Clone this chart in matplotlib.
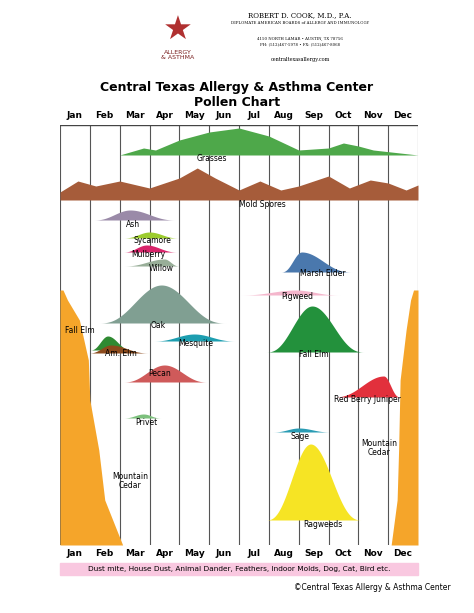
import numpy as np
import matplotlib.pyplot as plt

MONTHS = ["Jan", "Feb", "Mar", "Apr", "May", "Jun", "Jul", "Aug", "Sep", "Oct", "Nov", "Dec"]

# pollen seasons: name, start, peak, end (month units), baseline row, height, colour
SEASONS = [
    ("Ash", 1.1, 2.35, 3.9, 220, 10, "#9a8aa8"),
    ("Sycamore", 2.1, 3.0, 4.0, 238, 6, "#9ccc2e"),
    ("Mulberry", 2.1, 2.9, 3.95, 252, 7, "#d8246a"),
    ("Willow", 2.1, 3.5, 4.0, 266, 7, "#98ae98"),
    ("Oak", 1.3, 3.4, 5.55, 323, 38, "#809f92"),
    ("Fall Elm", 1.0, 1.6, 2.4, 350, 14, "#2f8a32"),
    ("Am. Elm", 0.95, 1.7, 3.0, 353, 8, "#8b4a1c"),
    ("Mesquite", 3.1, 4.5, 5.9, 341, 7, "#1d9eb0"),
    ("Pecan", 2.1, 3.5, 4.95, 382, 17, "#cf5a5a"),
    ("Privet", 2.1, 2.8, 3.4, 418, 4, "#7cc07c"),
    ("Marsh Elder", 7.4, 8.1, 9.8, 272, 20, "#4a78ad"),
    ("Pigweed", 6.0, 7.9, 9.4, 295, 5, "#f4b6cc"),
    ("Fall Elm ", 6.9, 8.45, 10.2, 352, 46, "#23913c"),
    ("Red Berry Juniper", 9.15, 10.85, 11.4, 397, 21, "#e2303c"),
    ("Sage", 7.1, 8.0, 9.1, 432, 4, "#2a9cb4"),
    ("Ragweeds", 6.9, 8.4, 10.1, 520, 76, "#f6e424"),
]
LABELS = {
    "Ash": (2.45, 227), "Sycamore": (3.1, 243), "Mulberry": (2.95, 257),
    "Willow": (3.4, 271), "Oak": (3.3, 328), "Fall Elm": (0.65, 333),
    "Am. Elm": (2.05, 356), "Mesquite": (4.55, 346), "Pecan": (3.35, 376),
    "Privet": (2.9, 425), "Marsh Elder": (8.8, 276), "Pigweed": (7.95, 299),
    "Fall Elm ": (8.5, 357), "Red Berry Juniper": (10.3, 402),
    "Sage": (8.05, 439), "Ragweeds": (8.8, 527),
}

grass_x = [2.0, 2.8, 3.2, 4.0, 5.0, 6.0, 7.0, 8.0, 9.0, 9.5, 10.0, 10.5, 12.0]
grass_top = [155, 148, 150, 140, 132, 128, 136, 150, 148, 143, 146, 150, 155]
mold_x = [0, 0.6, 1.2, 2.0, 3.0, 4.0, 4.6, 5.2, 6.0, 6.7, 7.4, 8.0, 9.0, 9.7, 10.4, 11.0, 11.6, 12.0]
mold_top = [192, 181, 186, 181, 188, 178, 168, 178, 190, 181, 190, 186, 176, 188, 180, 183, 190, 185]
cedar_l_row = [290, 300, 320, 360, 400, 450, 500, 545]
cedar_l_x = [0.1, 0.25, 0.65, 0.95, 1.0, 1.3, 1.5, 2.1]
cedar_r_row = [290, 300, 330, 380, 450, 500, 545]
cedar_r_x = [11.85, 11.75, 11.6, 11.4, 11.35, 11.3, 11.1]

fig = plt.figure(figsize=(4.74, 6.13), dpi=100)
W, H = 474, 613
ax = fig.add_axes([60 / W, 1 - 545 / H, 358 / W, 420 / H])
ax.set_xlim(0, 12)
ax.set_ylim(545, 125)
ax.axis("off")
for m in range(13):
    ax.axvline(m, color="#555555", lw=0.8, zorder=0)
ax.axhline(125, color="#444444", lw=1)

ax.fill_between(grass_x, grass_top, 155, color="#4ea84a", lw=0, zorder=2)
ax.text(5.1, 161, "Grasses", fontsize=5.5, ha="center")
ax.fill_between(mold_x, mold_top, 200, color="#a65c3a", lw=0, zorder=2)
ax.text(6.8, 207, "Mold Spores", fontsize=5.5, ha="center")

for name, s, p, e, base, h, col in SEASONS:
    x = np.linspace(s, e, 120)
    t = np.where(x < p, (x - s) / (p - s), (e - x) / (e - p))
    y = base - h * (0.5 - 0.5 * np.cos(np.pi * t)) ** 1.3
    ax.fill_between(x, y, base, color=col, lw=0, zorder=3)
    lx, ly = LABELS[name]
    ax.text(lx, ly, name.strip(), fontsize=5.5, ha="center", zorder=5)

ax.fill_betweenx(cedar_l_row, 0, cedar_l_x, color="#f5a52a", lw=0, zorder=2)
ax.fill_betweenx(cedar_r_row, cedar_r_x, 12, color="#f5a52a", lw=0, zorder=2)
ax.text(2.35, 488, "Mountain\nCedar", fontsize=5.5, ha="center", linespacing=1.0)
ax.text(10.7, 455, "Mountain\nCedar", fontsize=5.5, ha="center", linespacing=1.0)

for i, mo in enumerate(MONTHS):
    fig.text((60 + 29.83 * (i + 0.5)) / W, 1 - 115 / H, mo, fontsize=6.5, weight="bold", ha="center", va="center")
    fig.text((60 + 29.83 * (i + 0.5)) / W, 1 - 553 / H, mo, fontsize=6.5, weight="bold", ha="center", va="center")

fig.text(0.5, 1 - 87 / H, "Central Texas Allergy & Asthma Center", fontsize=9, weight="bold", ha="center", va="center")
fig.text(0.5, 1 - 103 / H, "Pollen Chart", fontsize=9, weight="bold", ha="center", va="center")

# letterhead
fig.text(178 / W, 1 - 30 / H, "★", fontsize=24, color="#b03030", ha="center", va="center")
fig.text(178 / W, 1 - 55 / H, "ALLERGY\n& ASTHMA", fontsize=4.5, color="#7a2020", ha="center", va="center", linespacing=0.9)
fig.text(300 / W, 1 - 17 / H, "ROBERT D. COOK, M.D., P.A.", fontsize=5, family="DejaVu Serif", ha="center")
fig.text(300 / W, 1 - 24 / H, "DIPLOMATE AMERICAN BOARDS of ALLERGY AND IMMUNOLOGY", fontsize=2.8, family="DejaVu Serif", ha="center")
fig.text(300 / W, 1 - 45 / H, "4150 NORTH LAMAR • AUSTIN, TX 78756\nPH: (512)467-5978 • FX: (512)467-8068", fontsize=2.8, family="DejaVu Serif", ha="center", linespacing=1.8)
fig.text(300 / W, 1 - 61 / H, "centraltexasallergy.com", fontsize=3.5, family="DejaVu Serif", ha="center")

fig.patches.append(plt.Rectangle((60 / W, 1 - 575 / H), 358 / W, 12 / H, transform=fig.transFigure, color="#f9c8e0", zorder=0))
fig.text(239 / W, 1 - 569 / H, "Dust mite, House Dust, Animal Dander, Feathers, Indoor Molds, Dog, Cat, Bird etc.", fontsize=5.3, ha="center", va="center")
fig.text(372 / W, 1 - 588 / H, "©Central Texas Allergy & Asthma Center", fontsize=5.5, ha="center", va="center")

fig.savefig("out.png", dpi=100)
